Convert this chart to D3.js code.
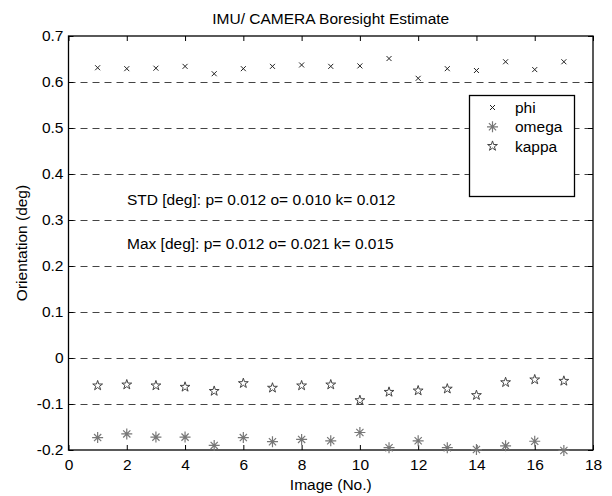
<!DOCTYPE html>
<html>
<head>
<meta charset="utf-8">
<script src="https://cdn.jsdelivr.net/npm/d3@7"></script>
<style>
  html, body { margin: 0; padding: 0; background: #fff; }
  svg { display: block; font-family: Arial, "Liberation Sans", Helvetica, sans-serif; }
</style>
</head>
<body>
<svg id="chart" width="612" height="496"></svg>
<script>
// ---- data ----
const images = [1,2,3,4,5,6,7,8,9,10,11,12,13,14,15,16,17];
const phi   = [0.631,0.629,0.630,0.634,0.618,0.629,0.634,0.637,0.634,0.635,0.651,0.608,0.629,0.625,0.644,0.627,0.644];
const omega = [-0.173,-0.165,-0.172,-0.172,-0.190,-0.173,-0.182,-0.177,-0.180,-0.162,-0.195,-0.180,-0.195,-0.199,-0.191,-0.181,-0.201];
const kappa = [-0.060,-0.058,-0.060,-0.063,-0.072,-0.055,-0.065,-0.060,-0.058,-0.092,-0.074,-0.071,-0.067,-0.081,-0.053,-0.047,-0.050];
const xTicks = [0,2,4,6,8,10,12,14,16,18];
const yTicks = [-0.2,-0.1,0,0.1,0.2,0.3,0.4,0.5,0.6,0.7];
const seriesNames = ["phi","omega","kappa"];
const titleText = "IMU/ CAMERA Boresight Estimate";
const xLabel = "Image (No.)";
const yLabel = "Orientation (deg)";
const stdText = "STD [deg]: p= 0.012 o= 0.010 k= 0.012";
const maxText = "Max [deg]: p= 0.012 o= 0.021 k= 0.015";

// ---- layout ----
const L = 68.5, R = 593, T = 36, B = 450;
const FS = 15.5;
const svg = d3.select("#chart");
const x = d3.scaleLinear().domain([0,18]).range([L,R]);
const y = d3.scaleLinear().domain([-0.2,0.7]).range([B,T]);

// grid (dashed)
svg.append("g").selectAll("line").data(yTicks.filter(v => v > -0.2 && v < 0.7)).join("line")
  .attr("x1", L).attr("x2", R)
  .attr("y1", d => Math.round(y(d)) + 0.5).attr("y2", d => Math.round(y(d)) + 0.5)
  .attr("stroke", "#444").attr("stroke-width", 1).attr("stroke-dasharray", "7,5");

// axes
const fmtY = d => String(+d.toFixed(1));
const axB = svg.append("g").attr("transform", `translate(0,${B})`)
  .call(d3.axisBottom(x).tickValues(xTicks).tickSizeInner(-5).tickSizeOuter(0).tickPadding(9).tickFormat(d3.format("d")));
const axT = svg.append("g").attr("transform", `translate(0,${T})`)
  .call(d3.axisTop(x).tickValues(xTicks).tickSizeInner(-5).tickSizeOuter(0).tickFormat(""));
const axL = svg.append("g").attr("transform", `translate(${L},0)`)
  .call(d3.axisLeft(y).tickValues(yTicks).tickSizeInner(-5).tickSizeOuter(0).tickPadding(5).tickFormat(fmtY));
const axR = svg.append("g").attr("transform", `translate(${R},0)`)
  .call(d3.axisRight(y).tickValues(yTicks).tickSizeInner(-5).tickSizeOuter(0).tickFormat(""));
[axB, axT, axL, axR].forEach(g => {
  g.select(".domain").remove();
  g.selectAll("line").attr("stroke", "#000");
  g.selectAll("text").attr("fill", "#000").style("font-size", FS + "px")
   .style("font-family", "Arial, 'Liberation Sans', sans-serif");
});

// box
svg.append("rect").attr("x", L).attr("y", T).attr("width", R - L).attr("height", B - T)
  .attr("fill", "none").attr("stroke", "#000").attr("stroke-width", 1.3);

// marker shapes
const xMark = "M-2.5,-2.5L2.5,2.5M-2.5,2.5L2.5,-2.5";
const astMark = "M0,-5.5L0,5.5M-5.5,0L5.5,0M-3.6,-3.6L3.6,3.6M-3.6,3.6L3.6,-3.6";
const starMark = d3.symbol(d3.symbolStar, 30)();

function drawSeries(vals, path, color, width) {
  svg.append("g").selectAll("path").data(images.map((im, i) => [im, vals[i]])).join("path")
    .attr("transform", d => `translate(${x(d[0])},${y(d[1])})`)
    .attr("d", path).attr("fill", "none").attr("stroke", color).attr("stroke-width", width);
}
drawSeries(phi, xMark, "#222", 1);
drawSeries(omega, astMark, "#777", 1.2);
drawSeries(kappa, starMark, "#444", 1);

// annotations
svg.append("text").attr("x", 127).attr("y", 204.5).text(stdText)
  .style("font-size", FS + "px").attr("fill", "#000");
svg.append("text").attr("x", 127).attr("y", 248.5).text(maxText)
  .style("font-size", FS + "px").attr("fill", "#000");

// title and labels
svg.append("text").attr("x", (L + R) / 2).attr("y", 24).attr("text-anchor", "middle")
  .text(titleText).style("font-size", FS + "px").attr("fill", "#000");
svg.append("text").attr("x", (L + R) / 2).attr("y", 490).attr("text-anchor", "middle")
  .text(xLabel).style("font-size", FS + "px").attr("fill", "#000");
svg.append("text").attr("transform", `translate(27,${(T + B) / 2}) rotate(-90)`).attr("text-anchor", "middle")
  .text(yLabel).style("font-size", FS + "px").attr("fill", "#000");

// legend
const lg = svg.append("g");
lg.append("rect").attr("x", 469.5).attr("y", 95.5).attr("width", 105).attr("height", 101)
  .attr("fill", "#fff").attr("stroke", "#000").attr("stroke-width", 1.3);
const legendMarks = [[xMark, "#222", 1], [astMark, "#777", 1.2], [starMark, "#444", 1]];
seriesNames.forEach((name, i) => {
  const cy = 107.5 + i * 19.3;
  lg.append("path").attr("transform", `translate(492.5,${cy})`).attr("d", legendMarks[i][0])
    .attr("fill", "none").attr("stroke", legendMarks[i][1]).attr("stroke-width", legendMarks[i][2]);
  lg.append("text").attr("x", 515).attr("y", cy).attr("dy", "0.36em").text(name)
    .style("font-size", FS + "px").attr("fill", "#000");
});
</script>
</body>
</html>
